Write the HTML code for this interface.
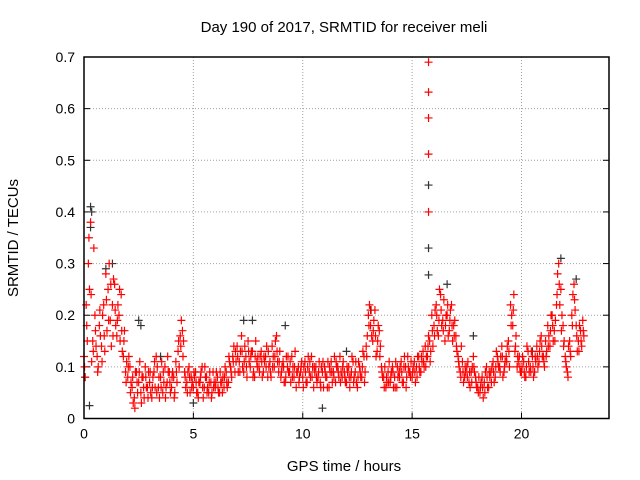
<!DOCTYPE html>
<html><head><meta charset="utf-8"><style>
body{margin:0;background:#fff}
svg{display:block;font-family:"Liberation Sans",sans-serif}
</style></head><body>
<svg id="chart" width="640" height="480">
<text x="344" y="32" font-size="15" text-anchor="middle">Day 190 of 2017, SRMTID for receiver meli</text>
<text x="344" y="471" font-size="15" text-anchor="middle">GPS time / hours</text>
<text transform="translate(18,238) rotate(-90)" font-size="15" text-anchor="middle">SRMTID / TECUs</text>
<g id="grid"></g><g id="ticks"></g><g id="marks"></g>
<rect x="84" y="57" width="525" height="361.5" fill="none" stroke="#000" stroke-width="1.5"/>
</svg>
<script>
const xTicks=[0,5,10,15,20];
const yTicks=[0,0.1,0.2,0.3,0.4,0.5,0.6,0.7];
const yTickLabels=["0","0.1","0.2","0.3","0.4","0.5","0.6","0.7"];
const red1=[0.12,0.22,0.30,0.38,0.15,0.20,0.12,0.18,0.14,0.22,
0.28,0.25,0.19,0.22,0.26,0.16,0.20,0.24,0.12,0.09,
0.08,0.10,0.06,0.04,0.09,0.07,0.05,0.08,0.10,0.06,
0.07,0.04,0.09,0.12,0.06,0.08,0.05,0.10,0.07,0.09,
0.06,0.08,0.11,0.13,0.16,0.17,0.09,0.07,0.10,0.08,
0.06,0.09,0.05,0.07,0.10,0.06,0.08,0.05,0.07,0.09,
0.06,0.08,0.05,0.07,0.06,0.09,0.07,0.10,0.12,0.09,
0.14,0.11,0.16,0.09,0.12,0.15,0.10,0.13,0.08,0.11,
0.10,0.13,0.09,0.12,0.08,0.11,0.14,0.10,0.16,0.09,
0.08,0.11,0.07,0.10,0.09,0.12,0.08,0.06,0.10,0.09,
0.08,0.11,0.07,0.09,0.12,0.06,0.10,0.08,0.07,0.09,
0.10,0.08,0.06,0.11,0.09,0.07,0.10,0.12,0.08,0.09,
0.07,0.10,0.08,0.11,0.09,0.06,0.10,0.08,0.12,0.14,
0.20,0.18,0.15,0.21,0.13,0.17,0.10,0.08,0.06,0.09,
0.07,0.10,0.08,0.06,0.09,0.11,0.07,0.10,0.12,0.09,
0.08,0.11,0.10,0.12,0.09,0.13,0.14,0.12,0.15,0.20,
0.18,0.22,0.16,0.24,0.19,0.15,0.20,0.17,0.22,0.18,
0.16,0.12,0.09,0.11,0.08,0.10,0.07,0.09,0.12,0.08,
0.06,0.05,0.08,0.07,0.10,0.06,0.09,0.11,0.08,0.12,
0.10,0.14,0.09,0.12,0.15,0.22,0.18,0.13,0.10,0.12,
0.09,0.11,0.08,0.13,0.10,0.12,0.09,0.14,0.11,0.16,
0.12,0.15,0.18,0.14,0.20,0.17,0.22,0.30,0.25,0.18,
0.12,0.09,0.15,0.20,0.26,0.18,0.15,0.17,0.19];
const red2=[0.08,0.15,0.25,0.11,0.33,0.14,0.10,0.16,0.20,0.13,
0.17,0.30,0.14,0.27,0.18,0.22,0.15,0.13,0.17,0.11,
0.12,0.07,0.03,0.09,0.05,0.11,0.08,0.04,0.06,0.09,
0.05,0.08,0.06,0.10,0.04,0.11,0.07,0.06,0.09,0.05,
0.09,0.05,0.07,0.10,0.19,0.15,0.06,0.09,0.05,0.07,
0.08,0.05,0.07,0.09,0.04,0.08,0.06,0.09,0.05,0.07,
0.09,0.05,0.07,0.08,0.10,0.06,0.11,0.08,0.14,0.11,
0.09,0.13,0.10,0.14,0.08,0.11,0.13,0.09,0.15,0.12,
0.12,0.08,0.11,0.14,0.10,0.08,0.12,0.15,0.11,0.13,
0.10,0.07,0.12,0.09,0.07,0.10,0.13,0.09,0.08,0.11,
0.10,0.07,0.12,0.08,0.10,0.09,0.07,0.11,0.10,0.06,
0.08,0.11,0.09,0.07,0.12,0.10,0.08,0.09,0.11,0.07,
0.09,0.06,0.12,0.08,0.07,0.11,0.08,0.13,0.09,0.16,
0.22,0.16,0.19,0.12,0.18,0.14,0.08,0.10,0.07,0.11,
0.09,0.06,0.11,0.08,0.10,0.07,0.12,0.08,0.09,0.11,
0.10,0.07,0.12,0.09,0.11,0.10,0.12,0.16,0.13,0.14,
0.21,0.17,0.25,0.18,0.23,0.20,0.16,0.21,0.15,0.19,
0.13,0.10,0.14,0.07,0.09,0.11,0.06,0.10,0.09,0.06,
0.08,0.07,0.04,0.09,0.06,0.08,0.10,0.07,0.13,0.10,
0.12,0.08,0.11,0.14,0.10,0.20,0.24,0.16,0.11,0.09,
0.12,0.08,0.14,0.09,0.13,0.08,0.11,0.10,0.15,0.12,
0.10,0.13,0.16,0.20,0.15,0.19,0.28,0.22,0.20,0.15,
0.10,0.14,0.12,0.24,0.21,0.13,0.18,0.14,0.16];
const red3=[0.10,0.18,0.35,0.24,0.13,0.17,0.09,0.21,0.11,0.16,
0.23,0.19,0.26,0.16,0.21,0.19,0.25,0.17,0.15,0.07,
0.10,0.05,0.08,0.02,0.07,0.09,0.03,0.06,0.08,0.04,
0.09,0.06,0.11,0.05,0.08,0.06,0.09,0.04,0.12,0.07,
0.08,0.04,0.09,0.15,0.14,0.12,0.08,0.05,0.08,0.06,
0.09,0.07,0.04,0.08,0.06,0.10,0.05,0.07,0.04,0.06,
0.07,0.06,0.09,0.05,0.08,0.07,0.12,0.09,0.11,0.13,
0.12,0.09,0.13,0.11,0.10,0.13,0.12,0.08,0.12,0.10,
0.09,0.11,0.12,0.10,0.13,0.09,0.10,0.12,0.13,0.11,
0.09,0.10,0.08,0.12,0.11,0.08,0.10,0.09,0.07,0.10,
0.06,0.09,0.10,0.11,0.08,0.10,0.08,0.09,0.06,0.11,
0.09,0.06,0.10,0.09,0.08,0.11,0.09,0.07,0.10,0.08,
0.10,0.08,0.09,0.07,0.11,0.08,0.09,0.10,0.07,0.12,
0.18,0.21,0.17,0.16,0.15,0.12,0.09,0.06,0.08,0.07,
0.08,0.09,0.06,0.10,0.08,0.09,0.10,0.06,0.10,0.08,
0.09,0.09,0.08,0.10,0.12,0.11,0.10,0.14,0.11,0.17,
0.16,0.20,0.19,0.21,0.17,0.18,0.22,0.19,0.18,0.16,
0.14,0.11,0.08,0.09,0.10,0.08,0.09,0.07,0.10,0.07,
0.05,0.06,0.06,0.05,0.08,0.09,0.07,0.09,0.10,0.11,
0.09,0.12,0.10,0.11,0.13,0.18,0.21,0.14,0.12,0.10,
0.10,0.09,0.10,0.11,0.09,0.10,0.12,0.12,0.13,0.14,
0.11,0.12,0.14,0.17,0.18,0.15,0.24,0.26,0.17,0.14,
0.11,0.08,0.13,0.18,0.23,0.16,0.13,0.15,0.17];
const spikeTimes=[15.75,15.75,15.75,15.75,15.75];
const spikeValues=[0.69,0.632,0.582,0.512,0.40];
const blackTimes=[0.3,0.35,0.3,0.25,1.0,1.3,2.5,2.6,5.0,7.3,7.7,9.2,10.9,13.1,15.75,15.75,16.6,21.8,22.5,0.05,3.5,12.0,17.8,20.5,15.75];
const blackValues=[0.41,0.40,0.37,0.025,0.29,0.30,0.19,0.18,0.03,0.19,0.19,0.18,0.02,0.21,0.452,0.33,0.26,0.31,0.27,0.08,0.12,0.13,0.16,0.13,0.278];
const L=84,R=609,T=57,B=418.5,XMAX=24,YMAX=0.7;
const sx=v=>L+v/XMAX*(R-L), sy=v=>B-v/YMAX*(B-T);
const NS="http://www.w3.org/2000/svg";
function mk(tag,attrs,parent){const e=document.createElementNS(NS,tag);for(const k in attrs)e.setAttribute(k,attrs[k]);parent.appendChild(e);return e;}
const grid=document.getElementById('grid'),ticks=document.getElementById('ticks'),marks=document.getElementById('marks');
xTicks.forEach((t,i)=>{const x=sx(t);
 if(t>0){const g=mk('line',{x1:x,x2:x,y1:T,y2:B,stroke:'#a0a0a0','stroke-dasharray':'1,2'},grid);
 
 }
 const tx=mk('text',{x:x,y:B+20,'font-size':14,'text-anchor':'middle'},ticks);tx.textContent=t;
 
 
 mk('line',{x1:x,x2:x,y1:B,y2:B-6,stroke:'#000'},ticks);});
yTicks.forEach((t,i)=>{const y=sy(t);
 if(t>0&&t<YMAX){const g=mk('line',{x1:L,x2:R,y1:y,y2:y,stroke:'#a0a0a0','stroke-dasharray':'1,2'},grid);
 
 }
 const tx=mk('text',{x:L-9,y:y+5,'font-size':14,'text-anchor':'end'},ticks);tx.textContent=yTickLabels[i];
 
 
 mk('line',{x1:L,x2:L+6,y1:y,y2:y,stroke:'#000'},ticks);mk('line',{x1:R,x2:R-6,y1:y,y2:y,stroke:'#000'},ticks);});
function plus(t,v,c){const x=sx(t),y=sy(v);
 const p=mk('path',{d:`M${x-4},${y}h8M${x},${y-4}v8`,stroke:c,'stroke-width':1.2,fill:'none'},marks);
 
 }
blackTimes.forEach((t,i)=>plus(t,blackValues[i],'#333'));
red1.forEach((v,i)=>plus(i*0.1,v,'#f00'));
red2.forEach((v,i)=>plus(i*0.1+0.05,v,'#f00'));
red3.forEach((v,i)=>plus(i*0.1+0.025,v,'#f00'));
spikeTimes.forEach((t,i)=>plus(t,spikeValues[i],'#f00'));
</script>
</body></html>
